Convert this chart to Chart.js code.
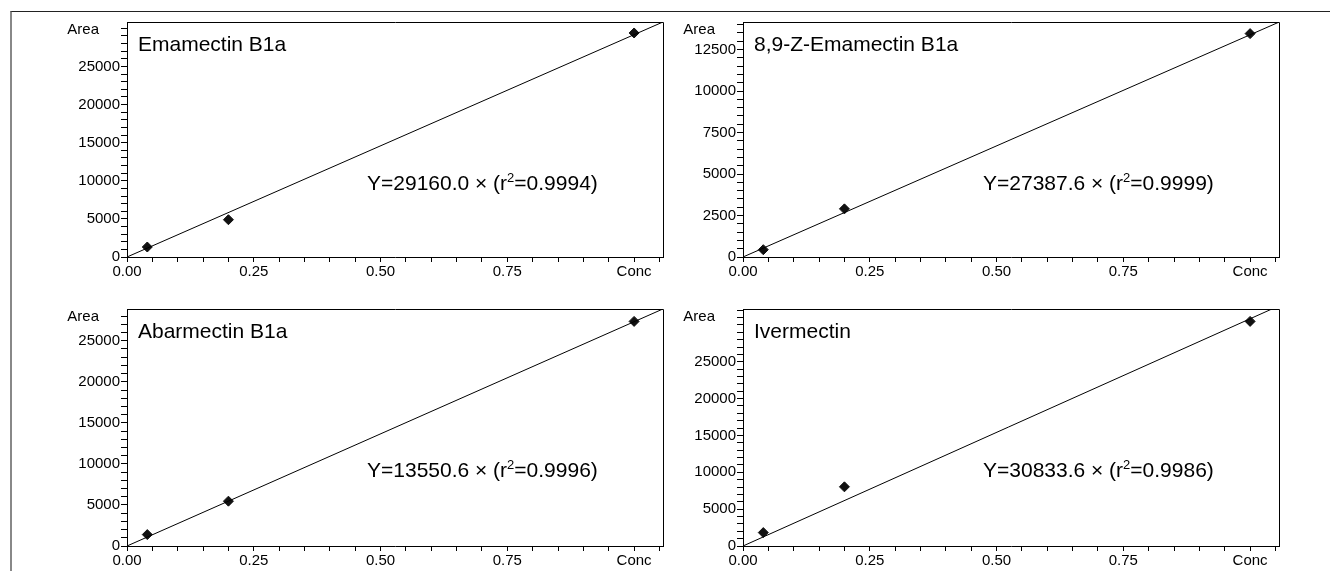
<!DOCTYPE html>
<html>
<head>
<meta charset="utf-8">
<script src="https://cdn.jsdelivr.net/npm/chart.js@4.4.1/dist/chart.umd.min.js"></script>
<style>
  html, body { margin: 0; padding: 0; background: #fff; }
  body { width: 1330px; height: 571px; position: relative; overflow: hidden; }
  #frame { position: absolute; left: 10px; top: 11px; right: 0; bottom: 0;
           border-top: 1px solid #222; border-left: 2px solid #888; }
  .panel { position: absolute; }
</style>
</head>
<body>
<div id="frame"></div>
<div class="panel" style="left:0;top:0;width:680px;height:285px"><canvas id="c0"></canvas></div>
<div class="panel" style="left:680px;top:0;width:650px;height:285px"><canvas id="c1"></canvas></div>
<div class="panel" style="left:0;top:285px;width:680px;height:286px"><canvas id="c2"></canvas></div>
<div class="panel" style="left:680px;top:285px;width:650px;height:286px"><canvas id="c3"></canvas></div>
<script>
const conc = [0.04, 0.2, 1.0];
const compounds = ['Emamectin B1a', '8,9-Z-Emamectin B1a', 'Abarmectin B1a', 'Ivermectin'];
const emamectinArea = [1310, 4890, 29380];
const zEmamectinArea = [440, 2900, 13460];
const abamectinArea = [1390, 5460, 27360];
const ivermectinArea = [1820, 8030, 30480];
const areas = [emamectinArea, zEmamectinArea, abamectinArea, ivermectinArea];

// equation text as printed, and slope of the line as it is drawn
const slopeText = ['29160.0', '27387.6', '13550.6', '30833.6'];
const r2Text = ['0.9994', '0.9999', '0.9996', '0.9986'];
const lineSlopes = [29160, 13390, 27320, 30834];

const xMax = 1.057;
const xTickLabels = ['0.00', '0.25', '0.50', '0.75', 'Conc'];
const yMax = [30820, 14160, 28870, 32160];
const yMinor = [1000, 500, 1000, 1000];
const yTickLabels = [
  [0, 5000, 10000, 15000, 20000, 25000],
  [0, 2500, 5000, 7500, 10000, 12500],
  [0, 5000, 10000, 15000, 20000, 25000],
  [0, 5000, 10000, 15000, 20000, 25000]
];

const FONT = '"Liberation Sans", Arial, sans-serif';

// y-axis width, top padding, right padding, x-axis height
const layouts = [
  { yw: 127, top: 22, right: 17, xh: 28 },
  { yw: 63, top: 22, right: 51, xh: 28 },
  { yw: 127, top: 24, right: 17, xh: 25 },
  { yw: 63, top: 24, right: 51, xh: 25 }
];

const align = v => Math.round(v - 0.5) + 0.5;

const decor = {
  id: 'decor',
  afterDraw(chart, args, opts) {
    const { ctx, chartArea: a } = chart;
    const i = opts.idx;
    ctx.save();
    ctx.strokeStyle = '#000';
    ctx.lineWidth = 1;
    ctx.beginPath();
    ctx.moveTo(align(a.left), align(a.top));
    ctx.lineTo(align(a.right), align(a.top));
    ctx.lineTo(align(a.right), align(a.bottom));
    ctx.stroke();

    ctx.fillStyle = '#000';
    ctx.textBaseline = 'middle';

    ctx.font = '15px ' + FONT;
    ctx.textAlign = 'right';
    ctx.fillText('Area', a.left - 28, a.top + 8);

    ctx.textAlign = 'left';
    ctx.font = '21px ' + FONT;
    ctx.fillText(compounds[i], a.left + 11, a.top + 23);

    let x = a.left + 240;
    const y = a.top + 162;
    const s1 = 'Y=' + slopeText[i] + ' \u00d7 (r';
    ctx.fillText(s1, x, y);
    x += ctx.measureText(s1).width;
    ctx.font = '13px ' + FONT;
    ctx.fillText('2', x, y - 6);
    x += ctx.measureText('2').width;
    ctx.font = '21px ' + FONT;
    ctx.fillText('=' + r2Text[i] + ')', x, y);
    ctx.restore();
  }
};

areas.forEach((vals, i) => {
  const L = layouts[i];
  const xTicks = [];
  for (let k = 0; k <= 21; k++) xTicks.push(+(k * 0.05).toFixed(2));
  const yTicks = [];
  for (let v = 0; v <= yMax[i]; v += yMinor[i]) yTicks.push(v);

  new Chart(document.getElementById('c' + i), {
    type: 'scatter',
    data: {
      datasets: [
        {
          data: [{ x: 0, y: 0 }, { x: xMax, y: lineSlopes[i] * xMax }],
          showLine: true,
          borderColor: '#000',
          borderWidth: 1,
          pointRadius: 0,
          fill: false
        },
        {
          data: conc.map((c, j) => ({ x: c, y: vals[j] })),
          pointStyle: 'rectRot',
          pointRadius: 5,
          backgroundColor: '#111',
          borderColor: '#111',
          borderWidth: 1,
          showLine: false
        }
      ]
    },
    options: {
      responsive: true,
      maintainAspectRatio: false,
      animation: false,
      layout: { padding: { top: L.top, right: L.right, left: 0, bottom: 0 } },
      plugins: {
        legend: { display: false },
        tooltip: { enabled: false },
        decor: { idx: i }
      },
      scales: {
        x: {
          type: 'linear',
          min: 0,
          max: xMax,
          afterBuildTicks: s => { s.ticks = xTicks.map(v => ({ value: v })); },
          afterFit: s => { s.height = L.xh; },
          border: { display: true, color: '#000', width: 1 },
          grid: { drawOnChartArea: false, drawTicks: true, tickLength: 5, tickColor: '#000' },
          ticks: {
            autoSkip: false,
            maxRotation: 0,
            padding: 1,
            color: '#000',
            font: { family: FONT, size: 15 },
            callback: v => {
              const q = v / 0.25;
              return Math.abs(q - Math.round(q)) < 1e-6 ? xTickLabels[Math.round(q)] : '';
            }
          }
        },
        y: {
          type: 'linear',
          min: 0,
          max: yMax[i],
          afterBuildTicks: s => { s.ticks = yTicks.map(v => ({ value: v })); },
          afterFit: s => { s.width = L.yw; },
          border: { display: true, color: '#000', width: 1 },
          grid: { drawOnChartArea: false, drawTicks: true, tickLength: 6, tickColor: '#000' },
          ticks: {
            autoSkip: false,
            padding: 1,
            color: '#000',
            font: { family: FONT, size: 15 },
            callback: v => (yTickLabels[i].includes(v) ? String(v) : '')
          }
        }
      }
    },
    plugins: [decor]
  });
});
</script>
</body>
</html>
